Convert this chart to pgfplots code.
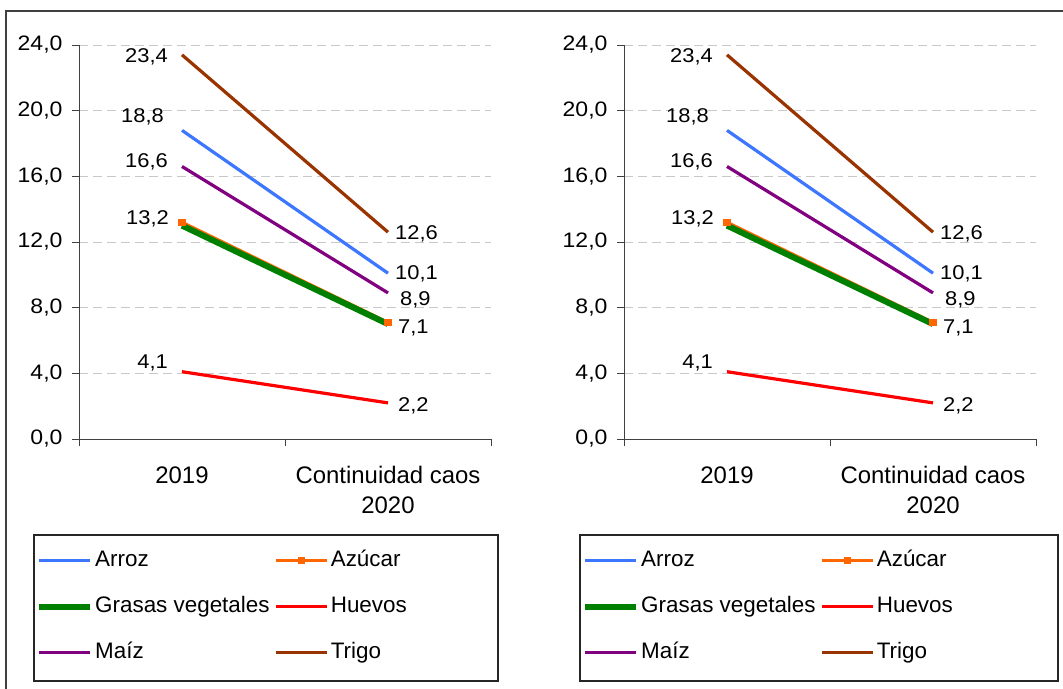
\documentclass[border=0pt]{standalone}
\usepackage{pgfplots}
\pgfplotsset{compat=1.18}
\usepackage{pgfplotstable}
\usepackage{fontspec}
\setmainfont{Liberation Sans}
\newfontfamily\numfont{Liberation Sans}[FakeStretch=1.1]
\definecolor{arroz}{HTML}{3D76FF}
\definecolor{azucar}{HTML}{FF6600}
\definecolor{grasas}{HTML}{008000}
\definecolor{huevos}{HTML}{FF0000}
\definecolor{maiz}{HTML}{800080}
\definecolor{trigo}{HTML}{993300}
\definecolor{gridc}{HTML}{C8C8C8}
\definecolor{axc}{HTML}{404040}

\tikzset{lbl/.style={font=\numfont\fontsize{20}{24}\selectfont, inner sep=0pt, text height=14.3bp, text depth=0pt}}

\pgfplotsset{
  panel/.style={
    anchor=south west, scale only axis, width=412bp, height=394bp,
    xmin=0, xmax=2, ymin=0, ymax=24, clip=false,
    axis x line=bottom, axis y line=left,
    axis line style={-, axc, line width=0.9bp},
    tick style={axc, line width=0.9bp},
    tick align=outside, major tick length=7bp,
    ytick={0,4,...,24},
    ymajorgrids, major grid style={gridc, line width=0.9bp, dash pattern=on 9bp off 5bp},
    /pgf/number format/assume math mode=true,
    /pgf/number format/fixed, /pgf/number format/fixed zerofill,
    /pgf/number format/precision=1, /pgf/number format/use comma,
    yticklabel style={font=\numfont\fontsize{21}{25}\selectfont, xshift=-6bp},
    xtick={0,1,2}, xticklabels={,,},
    extra x ticks={0.5,1.5},
    extra x tick labels={2019,{Continuidad caos\\2020}},
    extra x tick style={major tick length=0pt, grid=none},
    xticklabel style={font=\fontsize{24}{30}\selectfont, align=center, yshift=-24bp},
    legend columns=2,
    legend cell align=left,
    legend image code/.code={\draw[mark repeat=2,mark phase=2] plot coordinates {(0bp,0bp) (25.5bp,0bp) (51bp,0bp)};},
    legend style={draw=none, fill=none, inner sep=0pt, anchor=north west,
      font=\fontsize{22.5}{26}\selectfont,
      nodes={inner sep=2bp, text height=16bp, text depth=5bp},
      row sep=21bp,
      /tikz/every even column/.append style={column sep=3bp}},
  },
}

\pgfplotstableread{
x arroz azucar grasas huevos maiz trigo
0.5 18.8 13.2 13.0 4.1 16.6 23.4
1.5 10.1 7.1 7.0 2.2 8.9 12.6
}\datatab

\newcommand\panelcontent{%
  \addplot[arroz, line width=3.2bp] table[x=x,y=arroz] {\datatab};
  \addlegendentry{Arroz}
  \addplot[azucar, line width=3.2bp, mark=square*, mark size=2bp] table[x=x,y=azucar] {\datatab};
  \addlegendentry{Azúcar}
  \addplot[grasas, line width=6bp] table[x=x,y=grasas] {\datatab};
  \addlegendentry{Grasas vegetales}
  \addplot[huevos, line width=3.2bp] table[x=x,y=huevos] {\datatab};
  \addlegendentry{Huevos}
  \addplot[maiz, line width=3.2bp] table[x=x,y=maiz] {\datatab};
  \addlegendentry{Maíz}
  \addplot[trigo, line width=3.2bp] table[x=x,y=trigo] {\datatab};
  \addlegendentry{Trigo}
  \addplot[azucar, only marks, mark=square*, mark size=2bp, forget plot] table[x=x,y=azucar] {\datatab};
  \node[lbl, anchor=east] at (axis cs:0.5,23.4) [xshift=-14bp] {23,4};
  \node[lbl, anchor=east] at (axis cs:0.5,18.8) [xshift=-18bp, yshift=15bp] {18,8};
  \node[lbl, anchor=east] at (axis cs:0.5,16.6) [xshift=-14bp, yshift=6bp] {16,6};
  \node[lbl, anchor=east] at (axis cs:0.5,13.2) [xshift=-13bp, yshift=5bp] {13,2};
  \node[lbl, anchor=east] at (axis cs:0.5,4.1) [xshift=-14bp, yshift=10bp] {4,1};
  \node[lbl, anchor=west] at (axis cs:1.5,12.6) [xshift=7bp] {12,6};
  \node[lbl, anchor=west] at (axis cs:1.5,10.1) [xshift=7bp, yshift=1bp] {10,1};
  \node[lbl, anchor=west] at (axis cs:1.5,8.9) [xshift=12bp, yshift=-5bp] {8,9};
  \node[lbl, anchor=west] at (axis cs:1.5,7.1) [xshift=10bp, yshift=-4bp] {7,1};
  \node[lbl, anchor=west] at (axis cs:1.5,2.2) [xshift=10bp, yshift=-1bp] {2,2};
}

\begin{document}
\begin{tikzpicture}[x=1bp, y=1bp]
\draw[axc, line width=1.2bp] (6,-689) -- (6,-11) -- (1063,-11);

\begin{axis}[panel, at={(79bp,-439bp)},
  legend style={at={(-0.1044,-0.2766)}}]
\panelcontent
\end{axis}
\draw[black!85, line width=1.1bp] (34,-535) rectangle (498,-681);

\begin{axis}[panel, at={(624bp,-439bp)},
  legend style={at={(-0.1019,-0.2766)}}]
\panelcontent
\end{axis}
\draw[black!85, line width=1.1bp] (580,-535) rectangle (1058,-681);
\pgfresetboundingbox
\path[use as bounding box] (0,0) rectangle (1063,-689);
\end{tikzpicture}
\end{document}
